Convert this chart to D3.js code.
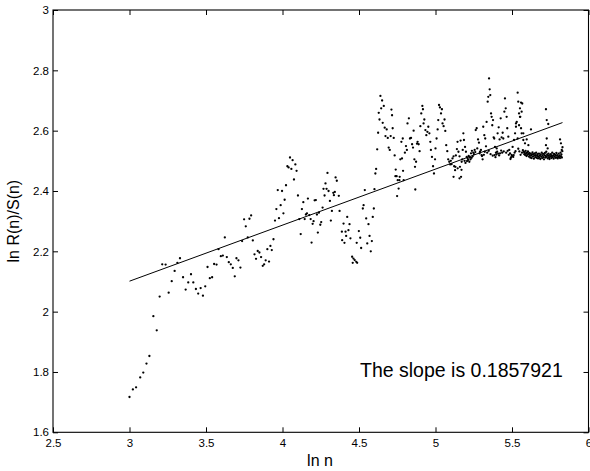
<!DOCTYPE html>
<html>
<head>
<meta charset="utf-8">
<script src="https://cdn.jsdelivr.net/npm/d3@7"></script>
<style>
  html, body { margin: 0; padding: 0; background: #fff; }
  svg { display: block; }
  text { font-family: "Liberation Sans", Arial, Helvetica, sans-serif; fill: #000; }
</style>
</head>
<body>
<svg id="chart" width="590" height="471"></svg>
<script>
// ---- data ----
const xTicks = [2.5, 3, 3.5, 4, 4.5, 5, 5.5, 6];
const yTicks = [1.6, 1.8, 2, 2.2, 2.4, 2.6, 2.8, 3];
const xTickLabels = ["2.5", "3", "3.5", "4", "4.5", "5", "5.5", "6"];
const yTickLabels = ["1.6", "1.8", "2", "2.2", "2.4", "2.6", "2.8", "3"];

const fitSlope = 0.1857921;
const fitIntercept = 1.5436;
const slopeText = "The slope is 0.1857921";

// ln n (x) and ln R(n)/S(n) (y) pairs
const lnN = [
3.000,3.022,3.043,3.070,3.090,3.111,3.130,3.156,3.178,3.197,
3.214,3.236,3.256,3.276,3.295,3.313,3.330,3.350,3.367,3.384,
3.402,3.417,3.434,3.449,3.465,3.480,3.495,3.510,3.525,3.540,
3.553,3.569,3.582,3.597,3.610,3.623,3.636,3.649,3.662,3.675,
3.688,3.699,3.712,3.725,3.736,3.749,3.760,3.773,3.784,3.795,
3.806,3.817,3.827,3.838,3.849,3.860,3.871,3.880,3.890,3.901,
3.912,3.921,3.930,3.941,3.951,3.960,3.969,3.977,3.988,3.997,
4.006,4.014,4.023,4.032,4.040,4.049,4.058,4.066,4.075,4.084,
4.092,4.101,4.110,4.119,4.127,4.136,4.145,4.153,4.160,4.166,
4.175,4.184,4.190,4.197,4.203,4.210,4.218,4.225,4.231,4.238,
4.247,4.253,4.262,4.268,4.275,4.281,4.288,4.294,4.301,4.310,
4.316,4.323,4.332,4.336,4.342,4.347,4.355,4.368,4.373,4.388,
4.390,4.399,4.405,4.412,4.416,4.423,4.431,4.438,4.444,4.455,
4.459,4.464,4.472,4.482,4.485,4.488,4.499,4.508,4.514,4.525,
4.530,4.538,4.547,4.554,4.562,4.569,4.577,4.584,4.590,4.597,
4.601,4.607,4.612,4.619,4.625,4.629,4.634,4.640,4.645,4.651,
4.655,4.662,4.668,4.673,4.681,4.688,4.694,4.701,4.707,4.712,
4.716,4.720,4.727,4.733,4.738,4.740,4.746,4.749,4.753,4.759,
4.764,4.766,4.770,4.777,4.781,4.786,4.788,4.792,4.800,4.807,
4.813,4.817,4.826,4.833,4.840,4.847,4.853,4.857,4.862,4.866,
4.868,4.873,4.879,4.883,4.890,4.896,4.901,4.907,4.914,4.918,
4.922,4.927,4.934,4.940,4.947,4.953,4.960,4.966,4.970,4.977,
4.984,4.990,4.997,5.000,5.007,5.014,5.018,5.023,5.029,5.036,
5.042,5.046,5.053,5.059,5.064,5.070,5.077,5.083,5.090,5.096,
5.100,5.105,5.111,5.118,5.118,5.122,5.128,5.130,5.133,5.140,
5.144,5.145,5.150,5.157,5.157,5.160,5.164,5.167,5.170,5.171,
5.175,5.178,5.182,5.186,5.190,5.193,5.196,5.199,5.204,5.206,
5.210,5.213,5.217,5.221,5.225,5.229,5.232,5.236,5.238,5.243,
5.247,5.251,5.256,5.260,5.263,5.269,5.273,5.278,5.284,5.288,
5.291,5.297,5.301,5.304,5.308,5.312,5.316,5.319,5.322,5.325,
5.330,5.334,5.338,5.341,5.345,5.348,5.350,5.354,5.358,5.360,
5.363,5.367,5.371,5.374,5.376,5.380,5.384,5.386,5.389,5.392,
5.395,5.398,5.400,5.403,5.406,5.410,5.413,5.416,5.419,5.422,
5.426,5.429,5.432,5.436,5.439,5.443,5.446,5.450,5.454,5.459,
5.462,5.465,5.469,5.472,5.476,5.479,5.482,5.487,5.490,5.493,
5.497,5.500,5.504,5.508,5.511,5.513,5.517,5.520,5.523,5.526,
5.526,5.531,5.537,5.537,5.541,5.541,5.546,5.546,5.548,5.552,
5.552,5.554,5.556,5.559,5.559,5.563,5.563,5.565,5.567,5.571,
5.574,5.574,5.577,5.580,5.583,5.585,5.586,5.589,5.592,5.595,
5.596,5.598,5.601,5.604,5.607,5.607,5.610,5.613,5.616,5.619,
5.622,5.624,5.625,5.628,5.631,5.634,5.637,5.640,5.643,5.646,
5.649,5.652,5.655,5.658,5.661,5.664,5.667,5.670,5.673,5.676,
5.679,5.682,5.685,5.688,5.691,5.694,5.697,5.700,5.703,5.706,
5.709,5.712,5.715,5.718,5.721,5.722,5.722,5.724,5.727,5.727,
5.727,5.730,5.733,5.733,5.736,5.737,5.739,5.742,5.745,5.748,
5.751,5.754,5.757,5.760,5.763,5.766,5.769,5.772,5.775,5.778,
5.781,5.784,5.787,5.790,5.793,5.796,5.799,5.802,5.805,5.808,
5.811,5.814,5.814,5.817,5.820,5.820,5.823,5.825,5.826,5.829,
5.830
];
const ratio = [
1.717,1.742,1.749,1.782,1.798,1.828,1.853,1.985,1.938,2.050,
2.157,2.156,2.063,2.101,2.135,2.162,2.177,2.114,2.073,2.097,
2.124,2.097,2.075,2.060,2.078,2.053,2.084,2.148,2.111,2.114,
2.158,2.156,2.207,2.184,2.186,2.246,2.181,2.164,2.157,2.145,
2.117,2.177,2.170,2.146,2.234,2.306,2.283,2.246,2.308,2.319,
2.236,2.190,2.175,2.201,2.196,2.181,2.152,2.157,2.170,2.207,
2.166,2.218,2.204,2.240,2.302,2.340,2.403,2.310,2.353,2.400,
2.326,2.371,2.419,2.482,2.478,2.511,2.473,2.502,2.438,2.488,
2.467,2.385,2.307,2.257,2.340,2.363,2.307,2.322,2.326,2.375,
2.320,2.307,2.229,2.291,2.300,2.369,2.370,2.322,2.262,2.328,
2.288,2.297,2.345,2.407,2.385,2.425,2.407,2.460,2.400,2.367,
2.302,2.334,2.394,2.386,2.397,2.445,2.434,2.384,2.334,2.265,
2.237,2.292,2.228,2.265,2.251,2.314,2.270,2.290,2.243,2.182,
2.162,2.176,2.171,2.165,2.228,2.162,2.267,2.245,2.211,2.342,
2.353,2.403,2.309,2.226,2.290,2.251,2.200,2.234,2.314,2.342,
2.406,2.458,2.473,2.538,2.593,2.659,2.637,2.715,2.674,2.700,
2.626,2.682,2.610,2.582,2.604,2.576,2.544,2.536,2.582,2.670,
2.651,2.608,2.576,2.518,2.449,2.471,2.449,2.383,2.436,2.408,
2.436,2.447,2.505,2.563,2.508,2.574,2.467,2.436,2.527,2.549,
2.536,2.624,2.641,2.574,2.576,2.555,2.544,2.600,2.505,2.480,
2.405,2.497,2.557,2.563,2.555,2.532,2.615,2.657,2.682,2.671,
2.624,2.637,2.602,2.585,2.596,2.613,2.591,2.563,2.536,2.513,
2.482,2.458,2.505,2.541,2.574,2.604,2.635,2.685,2.677,2.657,
2.671,2.624,2.615,2.637,2.599,2.552,2.532,2.505,2.497,2.488,
2.500,2.489,2.508,2.515,2.447,2.482,2.469,2.480,2.518,2.539,
2.563,2.475,2.530,2.515,2.442,2.480,2.567,2.447,2.470,2.497,
2.505,2.536,2.591,2.569,2.500,2.546,2.493,2.530,2.513,2.499,
2.508,2.503,2.516,2.497,2.511,2.505,2.525,2.510,2.533,2.515,
2.527,2.522,2.536,2.529,2.602,2.608,2.541,2.571,2.560,2.525,
2.530,2.536,2.519,2.516,2.505,2.613,2.520,2.585,2.530,2.574,
2.548,2.629,2.527,2.696,2.712,2.533,2.773,2.737,2.718,2.522,
2.657,2.646,2.618,2.517,2.635,2.578,2.574,2.519,2.546,2.512,
2.527,2.521,2.541,2.530,2.591,2.524,2.611,2.518,2.571,2.525,
2.641,2.534,2.578,2.527,2.593,2.574,2.531,2.663,2.707,2.674,
2.527,2.646,2.608,2.533,2.580,2.520,2.536,2.525,2.506,2.511,
2.520,2.516,2.546,2.513,2.519,2.569,2.527,2.591,2.532,2.613,
2.624,2.629,2.726,2.574,2.696,2.540,2.657,2.618,2.531,2.674,
2.646,2.646,2.520,2.693,2.608,2.663,2.591,2.527,2.690,2.535,
2.569,2.591,2.530,2.522,2.528,2.558,2.519,2.533,2.524,2.516,
2.571,2.527,2.520,2.531,2.552,2.523,2.514,2.526,2.519,2.511,
2.524,2.604,2.517,2.509,2.521,2.528,2.514,2.522,2.507,2.518,
2.525,2.512,2.519,2.527,2.510,2.516,2.522,2.508,2.515,2.524,
2.511,2.518,2.506,2.521,2.514,2.527,2.509,2.517,2.523,2.512,
2.505,2.519,2.526,2.511,2.516,2.671,2.552,2.530,2.635,2.574,
2.513,2.521,2.541,2.508,2.517,2.622,2.524,2.512,2.506,2.519,
2.514,2.522,2.509,2.516,2.527,2.512,2.518,2.507,2.523,2.514,
2.520,2.510,2.517,2.526,2.511,2.519,2.508,2.515,2.524,2.512,
2.518,2.571,2.509,2.527,2.558,2.515,2.521,2.536,2.511,2.532,
2.545
];

// ---- layout ----
const W = 590, H = 471;
const padL = 53, padR = 588.5, padT = 10, padB = 432.3;

const svg = d3.select("#chart");
svg.append("rect").attr("width", W).attr("height", H).attr("fill", "#fff");

const x = d3.scaleLinear().domain([2.5, 6]).range([padL, padR]);
const y = d3.scaleLinear().domain([1.6, 3]).range([padB, padT]);

const fmtX = (d, i) => xTickLabels[i];
const fmtY = (d, i) => yTickLabels[i];

const gx = svg.append("g").attr("transform", `translate(0,${padB})`)
  .call(d3.axisBottom(x).tickValues(xTicks).tickFormat(fmtX).tickSizeInner(-5).tickSizeOuter(0).tickPadding(7));
const gxTop = svg.append("g").attr("transform", `translate(0,${padT})`)
  .call(d3.axisTop(x).tickValues(xTicks).tickFormat("").tickSizeInner(-5).tickSizeOuter(0));
const gy = svg.append("g").attr("transform", `translate(${padL},0)`)
  .call(d3.axisLeft(y).tickValues(yTicks).tickFormat(fmtY).tickSizeInner(-5).tickSizeOuter(0).tickPadding(4));
const gyR = svg.append("g").attr("transform", `translate(${padR},0)`)
  .call(d3.axisRight(y).tickValues(yTicks).tickFormat("").tickSizeInner(-5).tickSizeOuter(0));

[gx, gxTop, gy, gyR].forEach(g => {
  g.select(".domain").remove();
  g.selectAll(".tick line").attr("stroke", "#000").attr("stroke-width", 1);
  g.selectAll(".tick text").attr("font-size", 11.5).attr("font-family", '"Liberation Sans", Arial, sans-serif').attr("fill", "#000");
});

svg.append("rect")
  .attr("x", padL).attr("y", padT)
  .attr("width", padR - padL).attr("height", padB - padT)
  .attr("fill", "none").attr("stroke", "#000").attr("stroke-width", 1.1);

// points
const pts = lnN.map((v, i) => [v, ratio[i]]);
svg.append("g").selectAll("circle").data(pts).join("circle")
  .attr("cx", d => x(d[0])).attr("cy", d => y(d[1]))
  .attr("r", 1.15).attr("fill", "#000");

// fitted line
const xExt = d3.extent(lnN);
svg.append("line")
  .attr("x1", x(xExt[0])).attr("y1", y(fitIntercept + fitSlope * xExt[0]))
  .attr("x2", x(xExt[1])).attr("y2", y(fitIntercept + fitSlope * xExt[1]))
  .attr("stroke", "#000").attr("stroke-width", 1);

// annotation
svg.append("text").attr("x", 360).attr("y", 377)
  .attr("text-anchor", "start").attr("font-size", 19.5).text(slopeText);

// axis labels
svg.append("text").attr("x", 320).attr("y", 466)
  .attr("text-anchor", "middle").attr("font-size", 16).text("ln n");
svg.append("text")
  .attr("transform", `translate(19,${(padT + padB) / 2}) rotate(-90)`)
  .attr("text-anchor", "middle").attr("font-size", 16).text("ln R(n)/S(n)");
</script>
</body>
</html>
